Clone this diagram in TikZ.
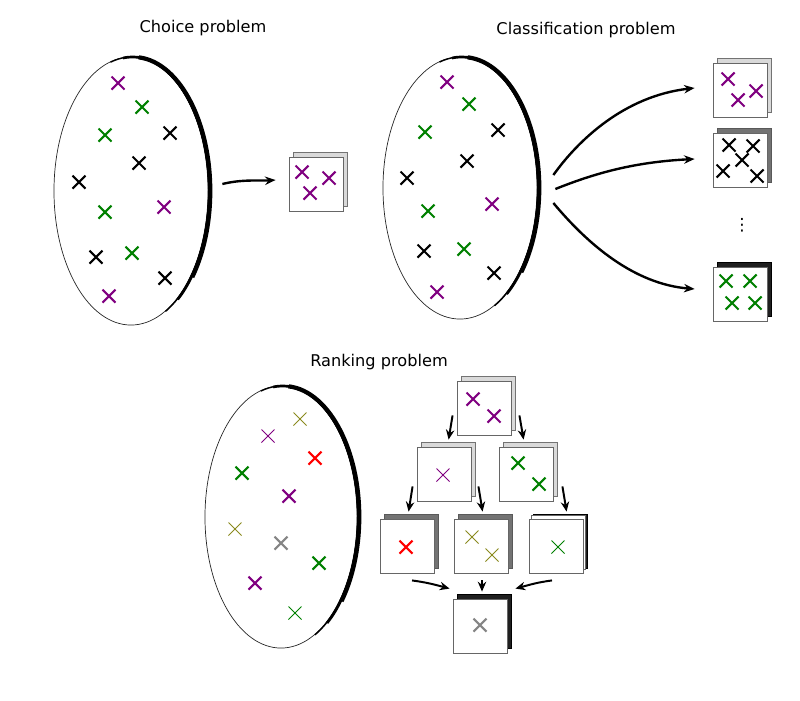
\documentclass[tikz,border=0pt]{standalone}
\usepackage{fontspec}
\setsansfont{DejaVu Sans}
\usetikzlibrary{shapes.geometric,arrows.meta,shadows}
\definecolor{xpurple}{HTML}{800080}
\definecolor{xgreen}{HTML}{008000}
\definecolor{xolive}{HTML}{8A8A1E}
\definecolor{xred}{HTML}{FF0000}
\definecolor{xgray}{HTML}{858585}
\tikzset{
  blob/.style     = {ellipse, draw=black!85, line width=0.5pt, inner sep=0pt},
  card/.style     = {draw=black!60, fill=white, line width=0.6pt,
                     minimum size=1.35cm, inner sep=0pt},
  paleback/.style = {copy shadow={shadow xshift=0.12cm, shadow yshift=0.12cm,
                     fill=black!15, draw=black!55, line width=0.5pt}},
  midback/.style  = {copy shadow={shadow xshift=0.12cm, shadow yshift=0.12cm,
                     fill=black!55, draw=black!65, line width=0.5pt}},
  darkback/.style = {copy shadow={shadow xshift=0.12cm, shadow yshift=0.12cm,
                     fill=black!88, draw=black, line width=0.5pt}},
  title/.style    = {font=\sffamily\fontsize{11.5}{13}\selectfont},
  arr/.style      = {-{Stealth[length=7pt,width=6pt]}, line width=1.4pt},
  bigarr/.style   = {-{Stealth[length=7.5pt,width=6pt]}, line width=1.7pt},
  bold/.style     = {line width=1.5pt},
  fine/.style     = {line width=0.6pt},
  xx/.pic         = {\draw (-6.5,-6.5) -- (6.5,6.5) (-6.5,6.5) -- (6.5,-6.5);}
}
% thick rim on the right side of a set
\newcommand{\rimarc}[3]{%
  \draw[line width=1pt] ([xshift=0.5pt]#1.center) ++(-106:#2 and #3)
    arc[start angle=-106, end angle=64, x radius=#2, y radius=#3];
  \draw[line width=1.9pt] ([xshift=1pt]#1.center) ++(-97:#2 and #3)
    arc[start angle=-97, end angle=54, x radius=#2, y radius=#3];
  \draw[line width=3pt] ([xshift=1.6pt]#1.center) ++(-86:#2 and #3)
    arc[start angle=-86, end angle=40, x radius=#2, y radius=#3];}

\begin{document}
\begin{tikzpicture}[x=0.025cm, y=-0.025cm]
\useasboundingbox (0,0) rectangle (800,700);

% choice problem
\node[title] (tchoice) at (203,28) {Choice problem};
\node[blob, minimum width=3.85cm, minimum height=6.7cm] (e1) at (131,191) {};
\rimarc{e1}{77}{134}
\pic[xpurple, bold] at (118,83) {xx};
\pic[xgreen, bold] at (142,107) {xx};
\pic[xgreen, bold] at (105,135) {xx};
\pic[black, bold] at (170,133) {xx};
\pic[black, bold] at (139,163) {xx};
\pic[black, bold] at (79,182) {xx};
\pic[xgreen, bold] at (105,212) {xx};
\pic[xpurple, bold] at (164,207) {xx};
\pic[black, bold] at (96,257) {xx};
\pic[xgreen, bold] at (132,253) {xx};
\pic[black, bold] at (165,278) {xx};
\pic[xpurple, bold] at (109,296) {xx};
\node[card, paleback] (b1) at (316,184) {};
\pic[xpurple, bold] at (302,172) {xx};
\pic[xpurple, bold] at (310,193) {xx};
\pic[xpurple, bold] at (329,178) {xx};
\draw[bigarr] ([shift={(14,-7)}]e1.east) .. controls +(20,-5) and +(-15,1) .. ([shift={(-13,-4)}]b1.west);

% classification problem
\node[title] (tclass) at (586,30) {Classification problem};
\node[blob, minimum width=3.85cm, minimum height=6.55cm] (e2) at (460,188) {};
\rimarc{e2}{77}{131}
\pic[xpurple, bold] at (447,82) {xx};
\pic[xgreen, bold] at (469,104) {xx};
\pic[xgreen, bold] at (425,132) {xx};
\pic[black, bold] at (498,130) {xx};
\pic[black, bold] at (467,161) {xx};
\pic[black, bold] at (407,178) {xx};
\pic[xgreen, bold] at (428,211) {xx};
\pic[xpurple, bold] at (492,204) {xx};
\pic[black, bold] at (424,251) {xx};
\pic[xgreen, bold] at (464,249) {xx};
\pic[black, bold] at (494,273) {xx};
\pic[xpurple, bold] at (437,292) {xx};
\node[card, paleback] (ca) at (740,90) {};
\pic[xpurple, bold] at (728,79) {xx};
\pic[xpurple, bold] at (738,100) {xx};
\pic[xpurple, bold] at (756,91) {xx};
\node[card, midback] (cb) at (740,160) {};
\pic[black, bold] at (729,145) {xx};
\pic[black, bold] at (753,146) {xx};
\pic[black, bold] at (742,160) {xx};
\pic[black, bold] at (723,171) {xx};
\pic[black, bold] at (757,176) {xx};
\node[font=\sffamily\fontsize{12}{12}\selectfont, inner sep=0pt] (dots) at (742,225) {⋮};
\node[card, darkback] (cc) at (740,294) {};
\pic[xgreen, bold] at (726,281) {xx};
\pic[xgreen, bold] at (750,281) {xx};
\pic[xgreen, bold] at (732,303) {xx};
\pic[xgreen, bold] at (755,303) {xx};
\draw[bigarr] ([shift={(16,-13)}]e2.east) .. controls +(25,-35) and +(-70,8) .. ([shift={(-18,-2)}]ca.west);
\draw[bigarr] ([shift={(18,1)}]e2.east) .. controls +(40,-16) and +(-60,3) .. ([shift={(-18,-1)}]cb.west);
\draw[bigarr] ([shift={(16,15)}]e2.east) .. controls +(35,42) and +(-60,-5) .. ([shift={(-18,-5)}]cc.west);

% ranking problem
\node[title] (trank) at (379,362) {Ranking problem};
\node[blob, minimum width=3.8cm, minimum height=6.55cm] (e3) at (281,517) {};
\rimarc{e3}{76}{131}
\pic[xolive, fine] at (300,419) {xx};
\pic[xpurple, fine] at (268,436) {xx};
\pic[xred, bold] at (315,458) {xx};
\pic[xgreen, bold] at (242,473) {xx};
\pic[xpurple, bold] at (289,496) {xx};
\pic[xolive, fine] at (235,529) {xx};
\pic[xgray, bold] at (281,543) {xx};
\pic[xgreen, bold] at (319,563) {xx};
\pic[xpurple, bold] at (255,583) {xx};
\pic[xgreen, fine] at (295,613) {xx};
\node[card, paleback] (top) at (484,408) {};
\pic[xpurple, bold] at (473,399) {xx};
\pic[xpurple, bold] at (494,416) {xx};
\node[card, paleback] (left) at (444,474) {};
\pic[xpurple, fine] at (443,475) {xx};
\node[card, paleback] (right) at (526,474) {};
\pic[xgreen, bold] at (518,463) {xx};
\pic[xgreen, bold] at (539,484) {xx};
\node[card, midback] (ll) at (407,546) {};
\pic[xred, bold] at (406,547) {xx};
\node[card, midback] (lm) at (481,546) {};
\pic[xolive, fine] at (472,537) {xx};
\pic[xolive, fine] at (492,555) {xx};
\node[card, darkback, copy shadow={shadow xshift=0.05cm, shadow yshift=0.08cm}] (rr) at (556,546) {};
\pic[xgreen, fine] at (558,547) {xx};
\node[card, darkback] (bot) at (480,626) {};
\pic[xgray, bold] at (480,625) {xx};
\draw[arr] ([shift={(-4,-20)}]top.south west) -- ([shift={(32,-7)}]left.north west);
\draw[arr] ([shift={(8,-20)}]top.south east) -- ([shift={(25,-7)}]right.north west);
\draw[arr] ([shift={(-4,-15)}]left.south west) -- ([shift={(29,-7)}]ll.north west);
\draw[arr] ([shift={(7,-15)}]left.south east) -- ([shift={(29,-7)}]lm.north west);
\draw[arr] ([shift={(9,-15)}]right.south east) -- ([shift={(38,-7)}]rr.north west);
\draw[arr] ([shift={(5,7)}]ll.south) .. controls +(15,2) and +(-15,-4) .. ([shift={(-3,-10)}]bot.north west);
\draw[arr] ([shift={(1,7)}]lm.south) -- ([shift={(2,-7)}]bot.north);
\draw[arr] ([shift={(-4,7)}]rr.south) .. controls +(-15,2) and +(15,-4) .. ([shift={(8,-10)}]bot.north east);
\end{tikzpicture}
\end{document}
